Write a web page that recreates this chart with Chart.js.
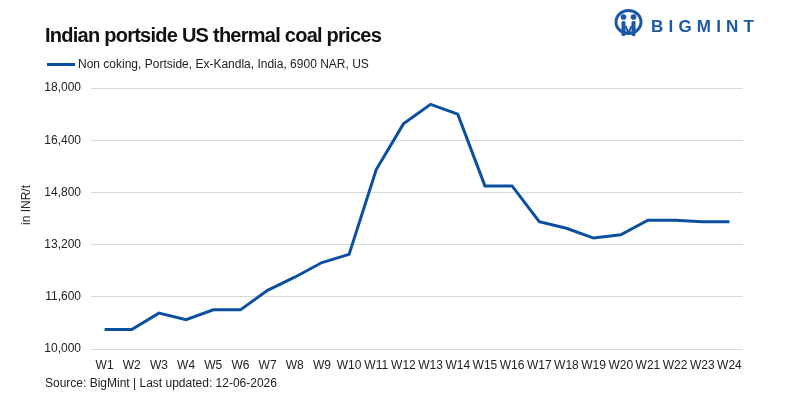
<!DOCTYPE html>
<html>
<head>
<meta charset="utf-8">
<script src="https://cdn.jsdelivr.net/npm/chart.js@4.4.0/dist/chart.umd.min.js"></script>
<style>
  html, body { margin: 0; padding: 0; background: #fff; }
  body { width: 801px; height: 400px; position: relative; overflow: hidden; font-family: "Liberation Sans", Arial, sans-serif; color: #111; }
  #title { position: absolute; left: 45px; top: 24px; font-size: 20px; font-weight: bold; letter-spacing: -0.75px; color: #111; }
  #legend { position: absolute; left: 47px; top: 57px; font-size: 12px; color: #222; display: flex; align-items: center; }
  #legend .swatch { width: 28px; height: 3px; background: #0b4f9f; margin-right: 3px; }
  #source { position: absolute; left: 45px; top: 376px; font-size: 12px; color: #222; }
  #ytitle { position: absolute; left: 26px; top: 205px; font-size: 12px; color: #222; transform: translate(-50%, -50%) rotate(-90deg); white-space: nowrap; }
  #logo { position: absolute; left: 614px; top: 9px; display: flex; align-items: center; }
  #logo span { font-weight: bold; font-size: 17px; letter-spacing: 5.2px; color: #1b58a8; margin-left: 8px; position: relative; top: 4px; }
  #wrap { position: absolute; left: 0; top: 0; width: 801px; height: 400px; }
</style>
</head>
<body>
<div id="wrap"><canvas id="priceChart" width="801" height="400"></canvas></div>
<div id="title">Indian portside US thermal coal prices</div>
<div id="logo">
  <svg width="29" height="28" viewBox="0 0 29 28">
    <ellipse cx="14.5" cy="13" rx="12.5" ry="11.5" fill="none" stroke="#1b58a8" stroke-width="3"/>
    <circle cx="9.5" cy="8" r="2.8" fill="#1b58a8"/>
    <circle cx="19.5" cy="8" r="2.8" fill="#1b58a8"/>
    <rect x="7.5" y="12" width="4" height="15" rx="1.5" fill="#1b58a8"/>
    <rect x="17.5" y="12" width="4" height="15" rx="1.5" fill="#1b58a8"/>
    <path d="M11.5 17 L14.5 24 L17.5 17" stroke="#1b58a8" stroke-width="2" fill="none"/>
  </svg>
  <span>BIGMINT</span>
</div>
<div id="legend"><div class="swatch"></div>Non coking, Portside, Ex-Kandla, India, 6900 NAR, US</div>
<div id="ytitle">in INR/t</div>
<div id="source">Source: BigMint | Last updated: 12-06-2026</div>

<script>
// --- Data ---
const weeks = ['W1', 'W2', 'W3', 'W4', 'W5', 'W6', 'W7', 'W8', 'W9', 'W10', 'W11', 'W12',
    'W13', 'W14', 'W15', 'W16', 'W17', 'W18', 'W19', 'W20', 'W21', 'W22', 'W23', 'W24'];

const kandlaPrices = [10600, 10600, 11100, 10900, 11200, 11200, 11800, 12200, 12650, 12900, 15500, 16900,
    17500, 17200, 15000, 15000, 13900, 13700, 13400, 13500, 13950, 13950, 13900, 13900];

const yTicks = [10000, 11600, 13200, 14800, 16400, 18000];

const seriesLabel = 'Non coking, Portside, Ex-Kandla, India, 6900 NAR, US';

// --- Chart Setup ---
const tickFont = { family: "'Liberation Sans', Arial, sans-serif", size: 12 };

new Chart(document.getElementById('priceChart').getContext('2d'), {
    type: 'line',
    data: {
        labels: weeks,
        datasets: [{
            label: seriesLabel,
            data: kandlaPrices,
            borderColor: '#0b4f9f',
            borderWidth: 3,
            pointRadius: 0,
            tension: 0,
            fill: false
        }]
    },
    options: {
        responsive: false,
        animation: false,
        layout: { padding: { left: 0, right: 58, top: 88, bottom: 0 } },
        scales: {
            x: {
                offset: true,
                grid: { display: false },
                border: { display: false },
                ticks: { color: '#222', font: tickFont, padding: 1, maxRotation: 0, autoSkip: false },
                afterFit: (scale) => { scale.height = 51; }
            },
            y: {
                min: 10000,
                max: 18000,
                afterBuildTicks: (scale) => { scale.ticks = yTicks.map(v => ({ value: v })); },
                grid: { color: '#d9d9d9', drawTicks: false },
                border: { display: false },
                ticks: {
                    color: '#222',
                    font: tickFont,
                    padding: 10,
                    callback: (v) => v.toLocaleString('en-US')
                },
                afterFit: (scale) => { scale.width = 91; }
            }
        },
        plugins: {
            legend: { display: false },
            tooltip: { enabled: false }
        }
    }
});
</script>
</body>
</html>
